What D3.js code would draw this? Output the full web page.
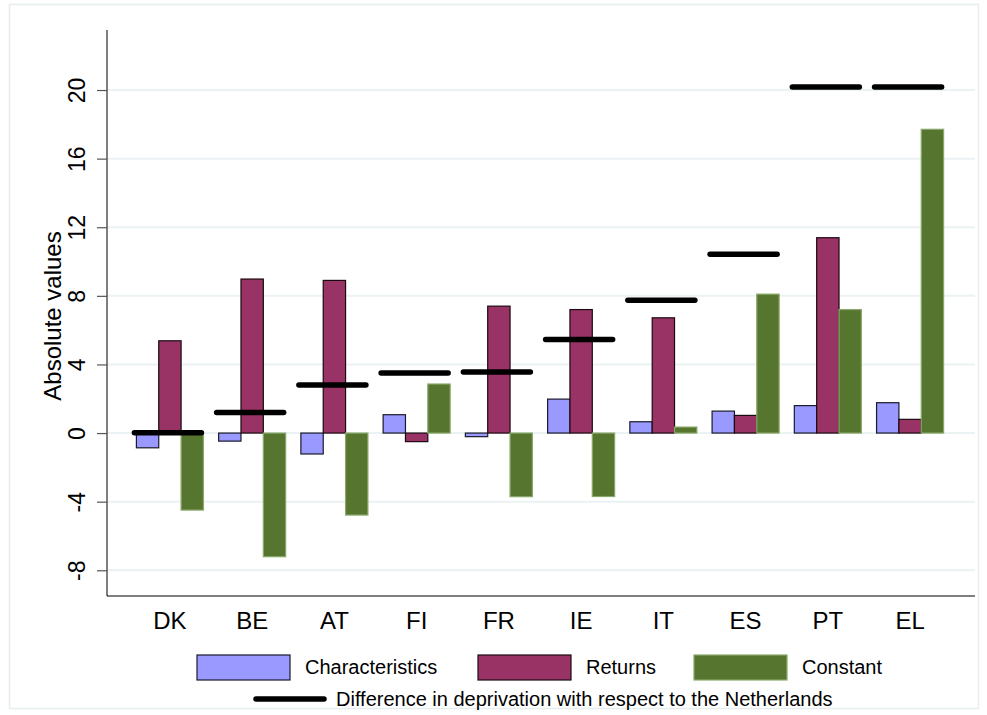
<!DOCTYPE html>
<html><head><meta charset="utf-8">
<script src="https://cdn.jsdelivr.net/npm/d3@7"></script>
<style>body{margin:0;background:#fff;font-family:"Liberation Sans",Arial,sans-serif;}</style>
</head><body><svg id="c" width="987" height="715"></svg>
<script>
const categories = ["DK","BE","AT","FI","FR","IE","IT","ES","PT","EL"];
const characteristics = [-0.86,-0.47,-1.22,1.07,-0.21,1.98,0.66,1.28,1.6,1.77];
const returns = [5.38,8.98,8.9,-0.5,7.4,7.2,6.72,1.03,11.39,0.8];
const constant = [-4.49,-7.21,-4.78,2.86,-3.71,-3.7,0.35,8.1,7.2,17.71];
const difference = [0.02,1.2,2.8,3.5,3.56,5.46,7.74,10.42,20.17,20.17];
const yTicks = [-8,-4,0,4,8,12,16,20];
const seriesNames = ["Characteristics","Returns","Constant"];
const lineLabel = "Difference in deprivation with respect to the Netherlands";
const yTitle = "Absolute values";

(function(){
const FONT = "Liberation Sans, Arial, sans-serif";
const colors = {Characteristics:"#9999ff", Returns:"#993366", Constant:"#56752e"};
const strokes = {Characteristics:"#1a1a2a", Returns:"#1a0a10", Constant:"#8aa86a"};

const svg = d3.select("#c").style("font-family",FONT);
svg.append("rect").attr("x",9.5).attr("y",4.5).attr("width",969).attr("height",704)
  .attr("fill","#fff").attr("stroke","#e6eef0").attr("stroke-width",1.5);

const pL=107, pR=975, pT=30, pB=596;
const y = d3.scaleLinear().domain([-9.5,23.5]).range([pB,pT]);
const x = d3.scaleBand().domain(categories).range([129,951]).paddingInner(0.185).paddingOuter(0.09);
const xs = d3.scaleBand().domain(seriesNames).range([0,x.bandwidth()]);

svg.append("g").selectAll("line").data(yTicks).join("line")
  .attr("x1",pL).attr("x2",pR).attr("y1",d=>y(d)).attr("y2",d=>y(d))
  .attr("stroke","#eaf2f3").attr("stroke-width",2);

const yAxis = d3.axisLeft(y).tickValues(yTicks).tickSize(10).tickFormat(d=>String(d));
const gy = svg.append("g").attr("transform",`translate(${pL},0)`).call(yAxis);
gy.select(".domain").attr("stroke","#000").attr("d",`M0,${pT}V${pB}`);
gy.selectAll(".tick line").attr("stroke","#555").attr("stroke-width",1.2);
gy.selectAll(".tick text").attr("font-size",23).attr("font-family",FONT)
  .attr("fill","#000")
  .attr("transform","translate(-22,0) rotate(-90)")
  .attr("x",0).attr("y",0).attr("dy","0").attr("text-anchor","middle");
svg.append("line").attr("x1",pL).attr("x2",pR).attr("y1",pB).attr("y2",pB).attr("stroke","#000");

const xAxis = d3.axisBottom(x).tickSize(0).tickPadding(0);
const gx = svg.append("g").attr("transform",`translate(0,${pB})`).call(xAxis);
gx.select(".domain").remove();
gx.selectAll(".tick text").attr("font-size",24).attr("font-family",FONT).attr("fill","#000")
  .attr("y",32.5).attr("dy","0");

svg.append("text").attr("transform","translate(61,316) rotate(-90)").attr("text-anchor","middle")
  .attr("font-size",24).text(yTitle);

const seriesData = {Characteristics:characteristics, Returns:returns, Constant:constant};
seriesNames.forEach(s=>{
  svg.append("g").selectAll("rect").data(categories).join("rect")
    .attr("x",d=>x(d)+xs(s))
    .attr("width",xs.bandwidth())
    .attr("y",(d,i)=>y(Math.max(0,seriesData[s][i])))
    .attr("height",(d,i)=>Math.abs(y(seriesData[s][i])-y(0)))
    .attr("fill",colors[s]).attr("stroke",strokes[s]).attr("stroke-width",1.2);
});

svg.append("g").selectAll("line").data(categories).join("line")
  .attr("x1",d=>x(d)-2).attr("x2",d=>x(d)+x.bandwidth()-2)
  .attr("y1",(d,i)=>y(difference[i])).attr("y2",(d,i)=>y(difference[i]))
  .attr("stroke","#000").attr("stroke-width",5.5).attr("stroke-linecap","round");

const lg = svg.append("g");
const legX = [197,478,694];
seriesNames.forEach((s,i)=>{
  lg.append("rect").attr("x",legX[i]).attr("y",655).attr("width",93).attr("height",25)
    .attr("fill",colors[s]).attr("stroke",strokes[s]).attr("stroke-width",1.2);
  lg.append("text").attr("x",legX[i]+108).attr("y",674).attr("font-size",20).text(s);
});
lg.append("line").attr("x1",256).attr("x2",324).attr("y1",699).attr("y2",699)
  .attr("stroke","#000").attr("stroke-width",5.5).attr("stroke-linecap","round");
lg.append("text").attr("x",336).attr("y",706).attr("font-size",20).text(lineLabel);
})();
</script></body></html>
